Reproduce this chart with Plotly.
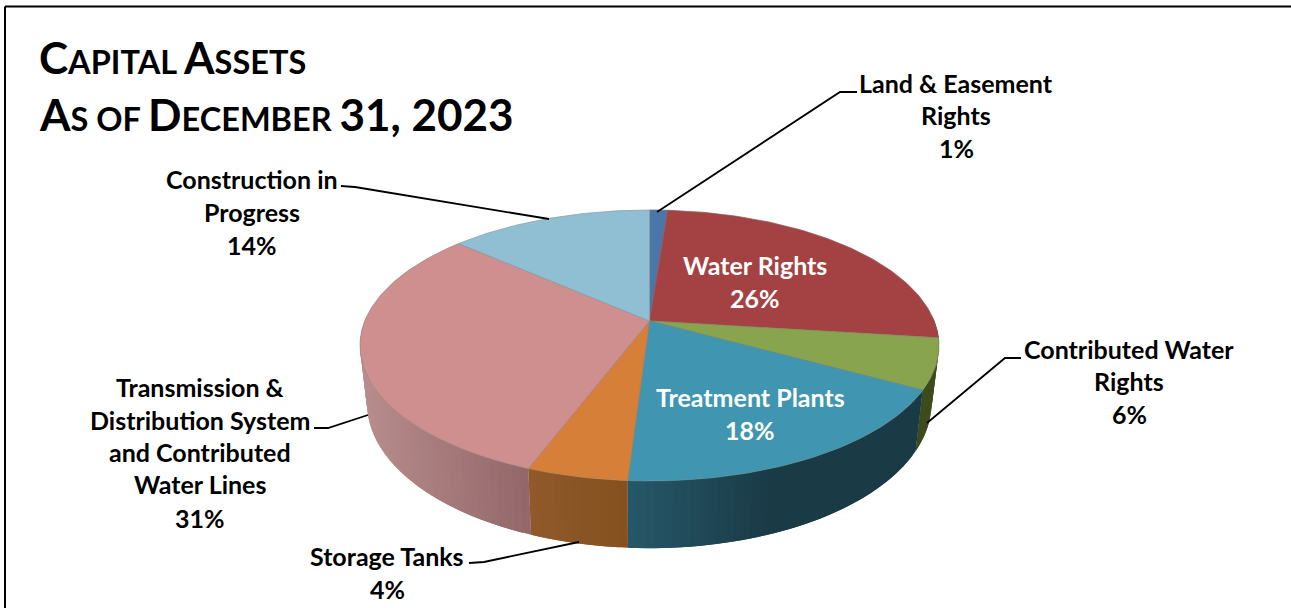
import numpy as np
import plotly.graph_objects as go

# Slice shares (printed labels are rounded)
slice_names = ['Land & Easement Rights', 'Water Rights', 'Contributed Water Rights', 'Treatment Plants',
               'Storage Tanks', 'Transmission & Distribution System and Contributed Water Lines',
               'Construction in Progress']
slice_shares = [1.2, 25.8, 6.0, 18.0, 4.75, 30.75, 13.5]
top_colors = ['#4a76a9', '#a44243', '#89a44f', '#4096b0', '#d67f39', '#ce8f8e', '#90bfd4']
# wall shade at the left and right end of each slice's wall, and how fast it gets there
wall_colors = [('#2c4560', '#2c4560'), ('#5c2526', '#5c2526'), ('#3d4a1b', '#3f4c1c'), ('#27596a', '#1a3a46'),
               ('#915a2b', '#84511f'), ('#b88d8d', '#94686a'), ('#6d8fa0', '#6d8fa0')]
wall_speed = [1, 1, 1, 2.0, 1, 1, 1]

title_lines = [
    [('C', 44), ('APITAL ', 32.5), ('A', 44), ('SSETS', 32.5)],
    [('A', 44), ('S OF ', 32.5), ('D', 44), ('ECEMBER ', 32.5), ('31, 2023', 44)],
]
title_y = [57, 114]

label_lines = [
    (['Land & Easement', 'Rights', '1%'], 956, [83, 115, 148], 'black'),
    (['Construction in', 'Progress', '14%'], 252, [179, 212, 245], 'black'),
    (['Water Rights', '26%'], 755, [265, 298], 'white'),
    (['Contributed Water', 'Rights', '6%'], 1129, [349, 381, 414], 'black'),
    (['Treatment Plants', '18%'], 750, [397, 430], 'white'),
    (['Transmission &', 'Distribution System', 'and Contributed', 'Water Lines', '31%'], 200,
     [387, 420, 452, 484, 518], 'black'),
    (['Storage Tanks', '4%'], 387, [556, 589], 'black'),
]

leaders = [
    [(857, 92), (840, 92), (657, 212)],
    [(341, 186), (355, 187), (549, 219)],
    [(1021, 358), (1005, 358), (927, 423)],
    [(314, 428), (328, 428), (368, 415)],
    [(469, 563), (484, 562), (579, 542)],
]

# pie geometry in page pixels
CX, CY = 649.5, 321
RX, RY_UP, RY_DOWN = 284.7, 111, 160
K = (RY_DOWN - RY_UP) / (RY_DOWN + RY_UP)
RY = RY_UP * (1 + K)


def rim(deg):
    t = np.radians(deg)
    u, v = np.sin(t), np.cos(t)
    w = 1 + K * v
    return CX + RX * u / w, CY - RY * v / w


def base(deg):
    x, y = rim(deg)
    return 640 + 0.975 * (x - 640), 33.5 + 1.07 * y


def mix(c1, c2, f):
    a = [int(c1[i:i + 2], 16) for i in (1, 3, 5)]
    b = [int(c2[i:i + 2], 16) for i in (1, 3, 5)]
    return 'rgb(%d,%d,%d)' % tuple(round(p + (q - p) * f) for p, q in zip(a, b))


fig = go.Figure()

edges = np.cumsum([0] + slice_shares) * 3.6
visible_from, visible_to = 88, 272

# side wall as overlapping strips, each one painted over the tail of the one before
for i in range(len(slice_shares)):
    a0, a1 = max(edges[i], visible_from), min(edges[i + 1], visible_to)
    if a1 <= a0:
        continue
    arc = np.linspace(a0, a1, max(int(a1 - a0), 2) + 1)
    x_left, x_right = rim(arc)[0].min(), rim(arc)[0].max()
    steps = max(int((a1 - a0) / 1.5), 1)
    cuts = np.linspace(a0, a1, steps + 1)
    for s in range(steps):
        seg = np.linspace(cuts[s], a1 if s + 1 == steps else cuts[s + 2], 4)
        xt, yt = rim(seg)
        xb, yb = base(seg)
        f = (rim(cuts[s])[0] - x_left) / (x_right - x_left)
        c = mix(wall_colors[i][0], wall_colors[i][1], min(f * wall_speed[i], 1))
        fig.add_trace(go.Scatter(
            x=np.r_[xt, xb[::-1], xt[0]],
            y=np.r_[yt, yb[::-1], yt[0]],
            mode='lines',
            fill='toself',
            fillcolor=c,
            line=dict(color=c, width=0),
            hoverinfo='skip',
            showlegend=False,
        ))

# top face
for i, name in enumerate(slice_names):
    seg = np.linspace(edges[i], edges[i + 1], max(int(slice_shares[i] * 3.6), 4))
    xs, ys = rim(seg)
    fig.add_trace(go.Scatter(
        x=np.r_[CX, xs, CX],
        y=np.r_[CY, ys, CY],
        mode='lines',
        fill='toself',
        fillcolor=top_colors[i],
        line=dict(color=mix(top_colors[i], '#777777', 0.45), width=0.8),
        name=name,
        hoverinfo='name',
        showlegend=False,
    ))

for pts in leaders:
    fig.add_trace(go.Scatter(
        x=[p[0] for p in pts],
        y=[p[1] for p in pts],
        mode='lines',
        line=dict(color='black', width=1.8),
        hoverinfo='skip',
        showlegend=False,
    ))

for parts, y in zip(title_lines, title_y):
    txt = ''.join('<span style="font-size:%spx">%s</span>' % (size, t) for t, size in parts)
    fig.add_annotation(x=37, y=y, text='<b>%s</b>' % txt, showarrow=False, xanchor='left', yanchor='middle',
                       font=dict(family='Lato', size=44, color='black'))

for lines, x, ys, color in label_lines:
    for line, y in zip(lines, ys):
        fig.add_annotation(x=x, y=y, text='<b>%s</b>' % line, showarrow=False, xanchor='center',
                           yanchor='middle', font=dict(family='Lato', size=25, color=color))

# page frame: top and left rules only
fig.add_shape(type='line', x0=5, y0=6.5, x1=1291, y1=6.5, line=dict(color='black', width=2))
fig.add_shape(type='line', x0=5, y0=6.5, x1=5, y1=608, line=dict(color='black', width=2))

fig.update_layout(
    width=1291,
    height=608,
    margin=dict(l=0, r=0, t=0, b=0),
    paper_bgcolor='white',
    plot_bgcolor='white',
    xaxis=dict(range=[0, 1291], visible=False, fixedrange=True),
    yaxis=dict(range=[608, 0], visible=False, fixedrange=True),
)

fig.write_html("out.html", config=dict(displayModeBar=False), post_script="document.body.style.margin='0';")
